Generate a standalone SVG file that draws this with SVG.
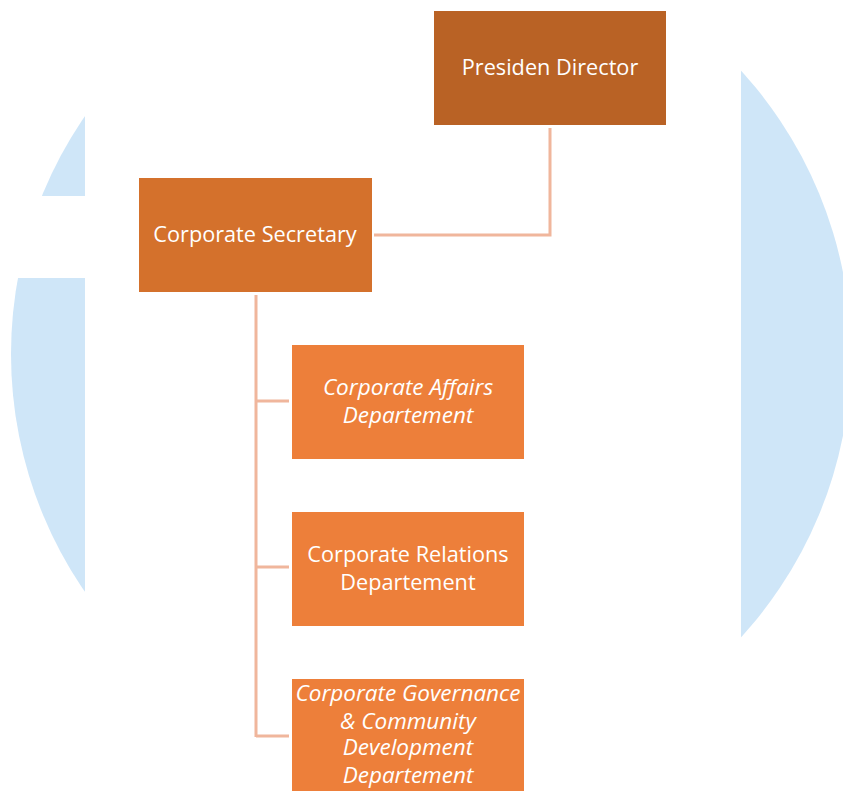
<svg xmlns="http://www.w3.org/2000/svg" width="843" height="791" viewBox="0 0 843 791">
<style>
.t{font-family:"Open Sans","Noto Sans","Liberation Sans",sans-serif;font-size:21.7px;fill:#ffffff;text-anchor:middle}
.i{font-style:italic;font-size:22.5px}
.c{fill:none;stroke:#f0b69c;stroke-width:3}
</style>
<rect width="843" height="791" fill="#ffffff"/>
<g id="background">
<circle cx="431" cy="354" r="420" fill="#cfe6f8"/>
<rect x="85" y="0" width="656" height="791" fill="#ffffff"/>
<rect x="0" y="196" width="85" height="82" fill="#ffffff"/>
</g>
<g id="connectors">
<polyline class="c" points="550,128 550,235 374,235"/>
<line class="c" x1="256" y1="295" x2="256" y2="737"/>
<line class="c" x1="256" y1="401" x2="289" y2="401"/>
<line class="c" x1="256" y1="567" x2="289" y2="567"/>
<line class="c" x1="256" y1="736" x2="289" y2="736"/>
</g>
<g id="presiden-director">
<rect x="434" y="11" width="232" height="114" fill="#b96225"/>
<text class="t" x="550" y="75">Presiden Director</text>
</g>
<g id="corporate-secretary">
<rect x="139" y="178" width="233" height="114" fill="#d4712c"/>
<text class="t" x="255" y="242">Corporate Secretary</text>
</g>
<g id="corporate-affairs">
<rect x="292" y="345" width="232" height="114" fill="#ed7f3a"/>
<text class="t i" x="408" y="395">Corporate Affairs</text>
<text class="t i" x="408" y="423">Departement</text>
</g>
<g id="corporate-relations">
<rect x="292" y="512" width="232" height="114" fill="#ed7f3a"/>
<text class="t" x="408" y="562">Corporate Relations</text>
<text class="t" x="408" y="590">Departement</text>
</g>
<g id="corporate-governance">
<rect x="292" y="679" width="232" height="112" fill="#ed7f3a"/>
<text class="t i" x="408" y="701">Corporate Governance</text>
<text class="t i" x="408" y="729">&amp; Community</text>
<text class="t i" x="408" y="755">Development</text>
<text class="t i" x="408" y="783">Departement</text>
</g>
</svg>
